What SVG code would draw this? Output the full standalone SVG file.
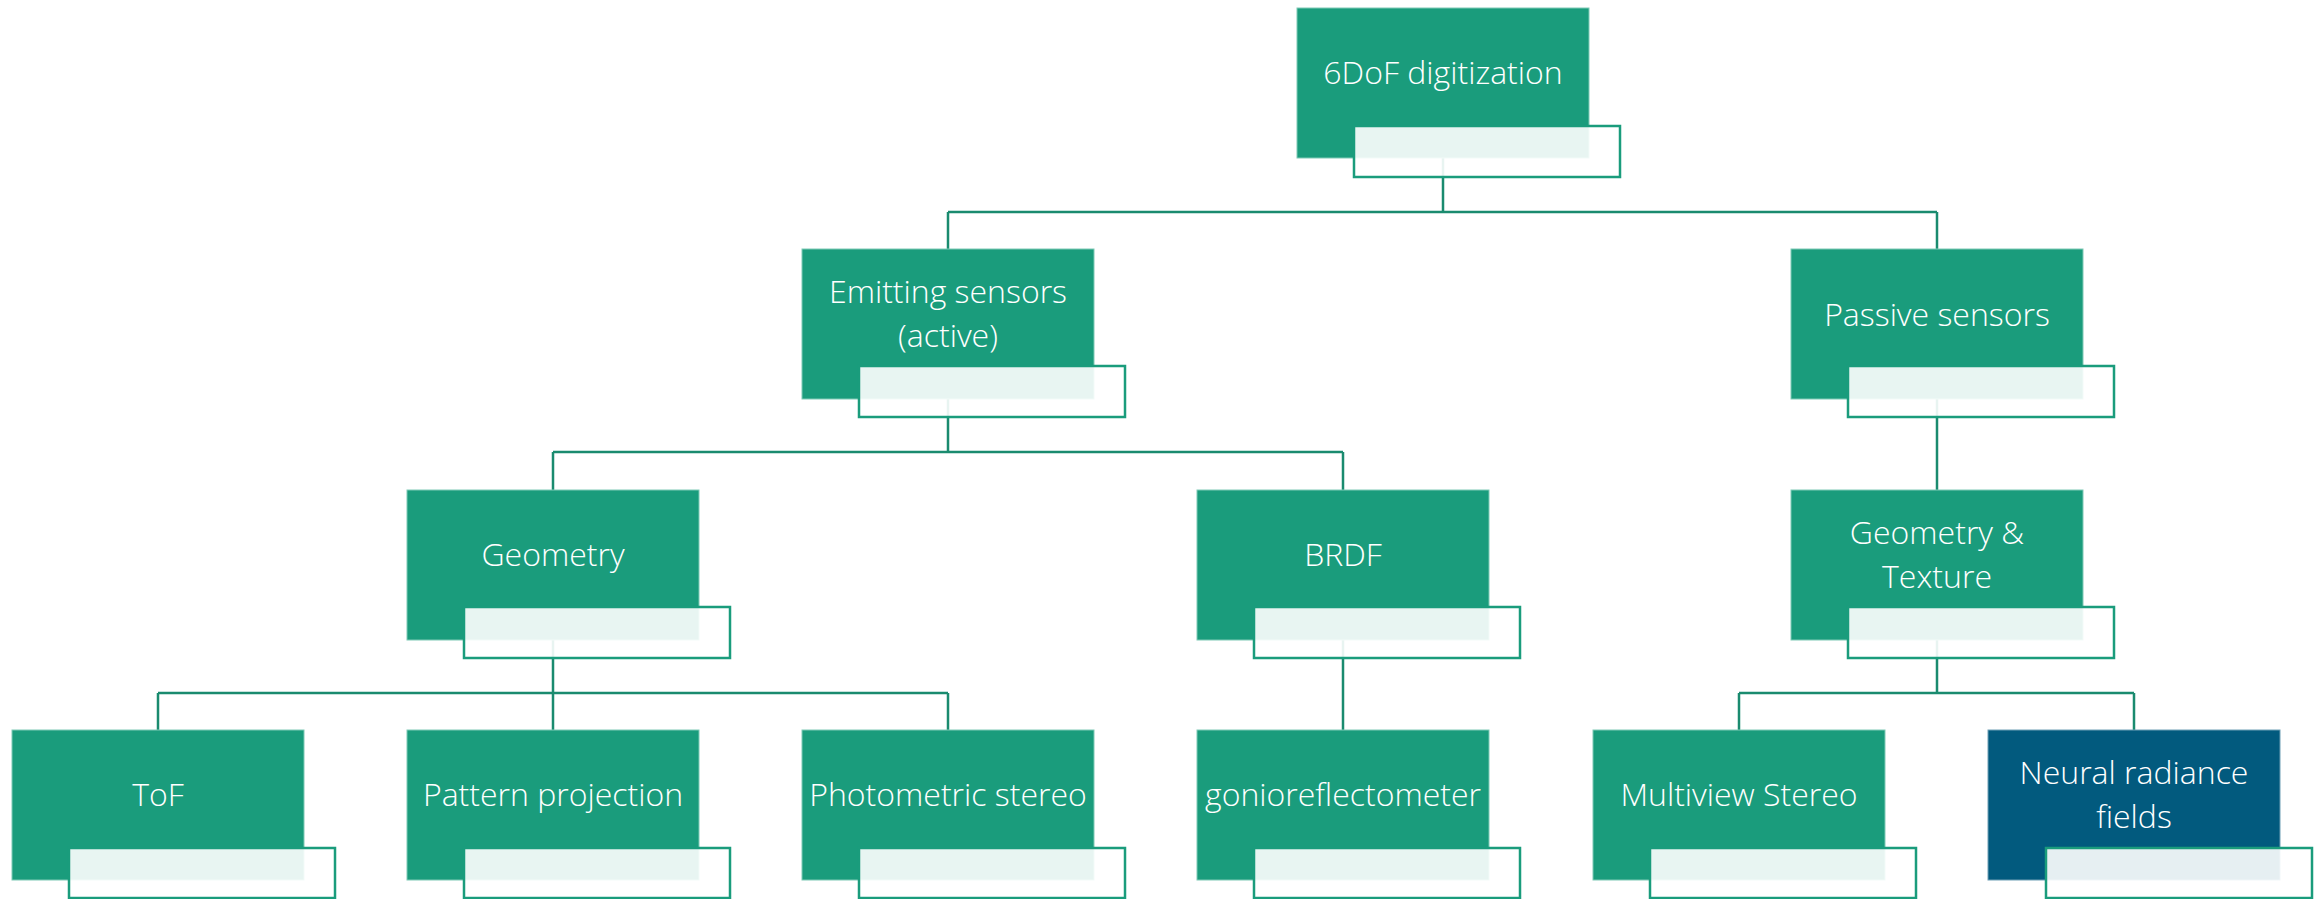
<svg xmlns="http://www.w3.org/2000/svg" width="2318" height="899" viewBox="0 0 2318 899">
<style>
.box{fill:#1a9c7c;stroke:#7fcab6;stroke-width:1}
.blue{fill:#025a7e;stroke:#6f9fb5;stroke-width:1}
.tag{fill:#ffffff;fill-opacity:0.9;stroke:#1a9c7c;stroke-width:2.5}
.lbl{font-family:"Open Sans","Noto Sans",sans-serif;font-size:32px;font-weight:300;fill:#ffffff;text-anchor:middle}
.con{fill:none;stroke:#1a8b6f;stroke-width:2.5}
</style>
<rect width="2318" height="899" fill="#ffffff"/>
<g id="connectors" class="con">
<path d="M1443 158V212M948 212H1937M948 212V249M1937 212V249"/>
<path d="M948 399V452M553 452H1343M553 452V490M1343 452V490"/>
<path d="M1937 399V490"/>
<path d="M553 639V693M158 693H948M158 693V730M553 693V730M948 693V730"/>
<path d="M1343 639V730"/>
<path d="M1937 639V693M1739 693H2134M1739 693V730M2134 693V730"/>
</g>
<g id="n-6dof"><rect class="box" x="1297" y="8" width="292" height="150"/><rect class="tag" x="1354" y="126" width="266" height="51"/><text class="lbl" x="1443" y="84">6DoF digitization</text></g>
<g id="n-emitting"><rect class="box" x="802" y="249" width="292" height="150"/><rect class="tag" x="859" y="366" width="266" height="51"/><text class="lbl" x="948" y="303">Emitting sensors</text><text class="lbl" x="948" y="347">(active)</text></g>
<g id="n-passive"><rect class="box" x="1791" y="249" width="292" height="150"/><rect class="tag" x="1848" y="366" width="266" height="51"/><text class="lbl" x="1937" y="326">Passive sensors</text></g>
<g id="n-geometry"><rect class="box" x="407" y="490" width="292" height="150"/><rect class="tag" x="464" y="607" width="266" height="51"/><text class="lbl" x="553" y="566">Geometry</text></g>
<g id="n-brdf"><rect class="box" x="1197" y="490" width="292" height="150"/><rect class="tag" x="1254" y="607" width="266" height="51"/><text class="lbl" x="1343" y="566">BRDF</text></g>
<g id="n-geotex"><rect class="box" x="1791" y="490" width="292" height="150"/><rect class="tag" x="1848" y="607" width="266" height="51"/><text class="lbl" x="1937" y="544">Geometry &amp;</text><text class="lbl" x="1937" y="588">Texture</text></g>
<g id="n-tof"><rect class="box" x="12" y="730" width="292" height="150"/><rect class="tag" x="69" y="848" width="266" height="50"/><text class="lbl" x="158" y="806">ToF</text></g>
<g id="n-pattern"><rect class="box" x="407" y="730" width="292" height="150"/><rect class="tag" x="464" y="848" width="266" height="50"/><text class="lbl" x="553" y="806">Pattern projection</text></g>
<g id="n-photometric"><rect class="box" x="802" y="730" width="292" height="150"/><rect class="tag" x="859" y="848" width="266" height="50"/><text class="lbl" x="948" y="806">Photometric stereo</text></g>
<g id="n-gonio"><rect class="box" x="1197" y="730" width="292" height="150"/><rect class="tag" x="1254" y="848" width="266" height="50"/><text class="lbl" x="1343" y="806">gonioreflectometer</text></g>
<g id="n-multiview"><rect class="box" x="1593" y="730" width="292" height="150"/><rect class="tag" x="1650" y="848" width="266" height="50"/><text class="lbl" x="1739" y="806">Multiview Stereo</text></g>
<g id="n-nerf"><rect class="blue" x="1988" y="730" width="292" height="150"/><rect class="tag" x="2046" y="848" width="266" height="50"/><text class="lbl" x="2134" y="784">Neural radiance</text><text class="lbl" x="2134" y="828">fields</text></g>
</svg>
